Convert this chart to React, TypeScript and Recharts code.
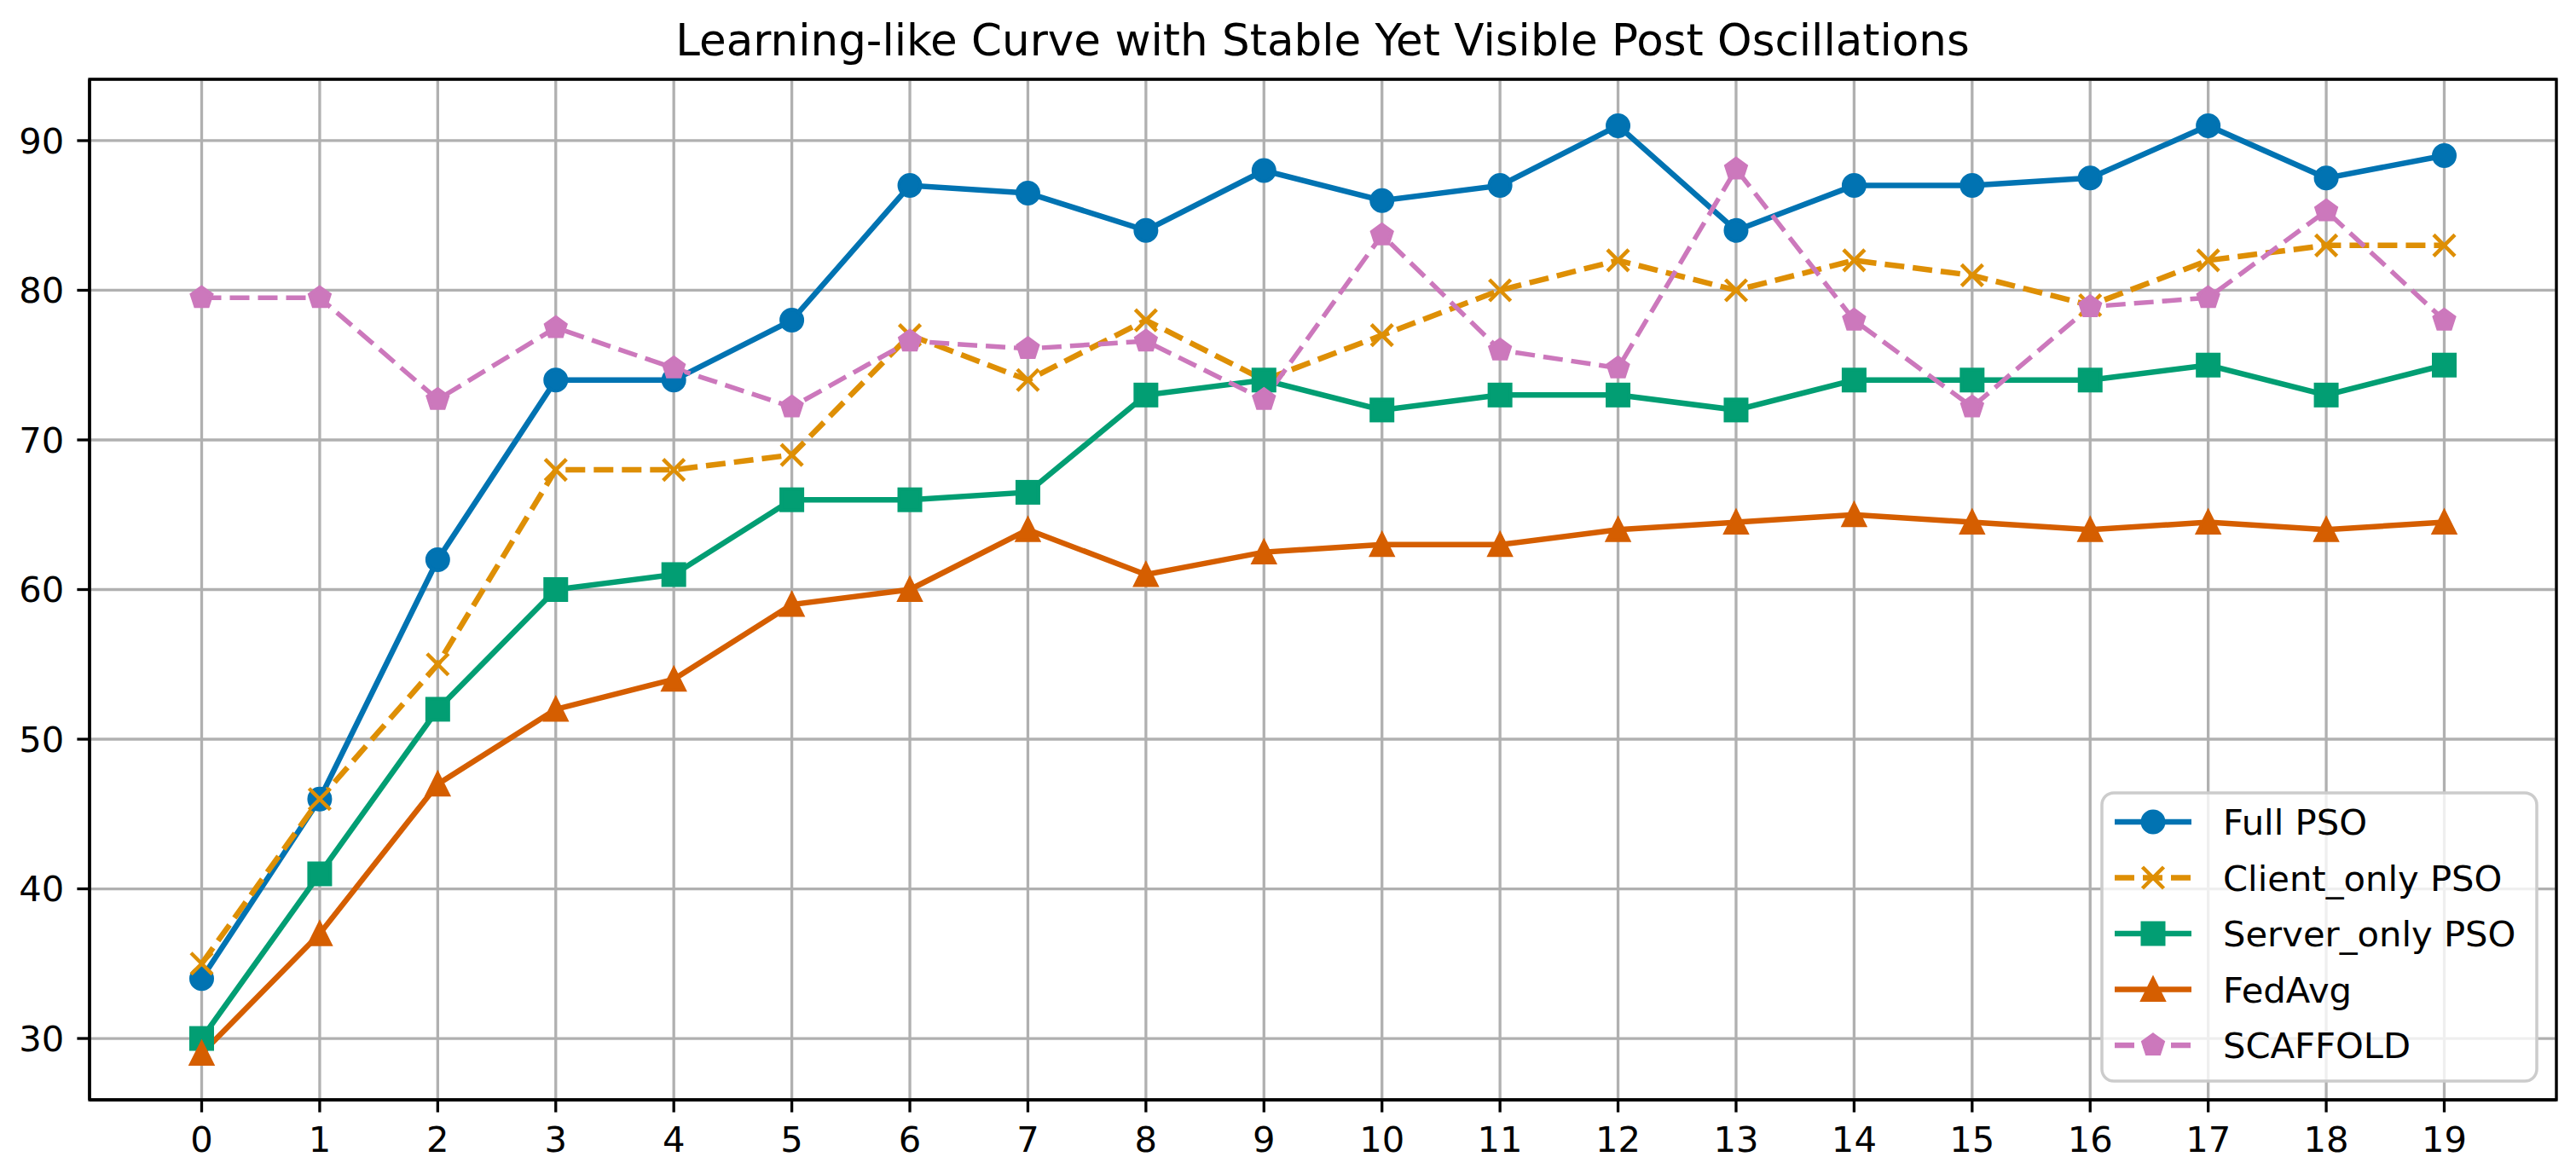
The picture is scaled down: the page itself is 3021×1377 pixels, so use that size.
import { CartesianGrid, Line, LineChart, ReferenceArea, XAxis, YAxis } from 'recharts';

const rounds = [0, 1, 2, 3, 4, 5, 6, 7, 8, 9, 10, 11, 12, 13, 14, 15, 16, 17, 18, 19];
const fullPso = [34, 46, 62, 74, 74, 78, 87, 86.5, 84, 88, 86, 87, 91, 84, 87, 87, 87.5, 91, 87.5, 89];
const clientOnlyPso = [35, 46, 55, 68, 68, 69, 77, 74, 78, 74, 77, 80, 82, 80, 82, 81, 79, 82, 83, 83];
const serverOnlyPso = [30, 41, 52, 60, 61, 66, 66, 66.5, 73, 74, 72, 73, 73, 72, 74, 74, 74, 75, 73, 75];
const fedAvg = [29, 37, 47, 52, 54, 59, 60, 64, 61, 62.5, 63, 63, 64, 64.5, 65, 64.5, 64, 64.5, 64, 64.5];
const scaffold = [79.5, 79.5, 72.7, 77.5, 74.8, 72.2, 76.6, 76.1, 76.6, 72.7, 83.7, 76.0, 74.8, 88.1, 78.0, 72.2, 78.9, 79.5, 85.3, 78.0];

const yTicks = [30, 40, 50, 60, 70, 80, 90];
const xDomain: [number, number] = [-0.95, 19.95];
const yDomain: [number, number] = [25.9, 94.1];

const TITLE = 'Learning-like Curve with Stable Yet Visible Post Oscillations';
const FONT = '"DejaVu Sans", Verdana, sans-serif';

type MarkerKind = 'circle' | 'x' | 'square' | 'triangle' | 'pentagon';

const series: { key: string; name: string; color: string; marker: MarkerKind; dashed: boolean; values: number[] }[] = [
    { key: 'full', name: 'Full PSO', color: '#0173b2', marker: 'circle', dashed: false, values: fullPso },
    { key: 'client', name: 'Client_only PSO', color: '#de8f05', marker: 'x', dashed: true, values: clientOnlyPso },
    { key: 'server', name: 'Server_only PSO', color: '#029e73', marker: 'square', dashed: false, values: serverOnlyPso },
    { key: 'fedavg', name: 'FedAvg', color: '#d55e00', marker: 'triangle', dashed: false, values: fedAvg },
    { key: 'scaffold', name: 'SCAFFOLD', color: '#cc78bc', marker: 'pentagon', dashed: true, values: scaffold },
];

const rows = rounds.map((round, i) => {
    const row: Record<string, number> = { round };
    series.forEach((s) => {
        row[s.key] = s.values[i];
    });
    return row;
});

const LINE_W = 6.5;
const DASH = '23 10';
const HALF = 12.5; // half marker size (6pt at 300dpi)
const EDGE = 4;

function Marker({ kind, cx, cy, color }: { kind: MarkerKind; cx: number; cy: number; color: string }) {
    if (cx == null || cy == null) return null;
    const common = { fill: color, stroke: color, strokeWidth: EDGE };
    switch (kind) {
        case 'circle':
            return <circle cx={cx} cy={cy} r={HALF} {...common} />;
        case 'square':
            return <rect x={cx - HALF} y={cy - HALF} width={HALF * 2} height={HALF * 2} {...common} />;
        case 'triangle':
            return <polygon points={`${cx},${cy - HALF} ${cx - HALF},${cy + HALF} ${cx + HALF},${cy + HALF}`} {...common} strokeLinejoin="miter" />;
        case 'pentagon': {
            const pts = [0, 1, 2, 3, 4]
                .map((k) => {
                    const a = -Math.PI / 2 + (k * 2 * Math.PI) / 5;
                    return `${cx + HALF * Math.cos(a)},${cy + HALF * Math.sin(a)}`;
                })
                .join(' ');
            return <polygon points={pts} {...common} />;
        }
        case 'x':
            return (
                <g stroke={color} strokeWidth={EDGE + 0.5}>
                    <line x1={cx - HALF} y1={cy - HALF} x2={cx + HALF} y2={cy + HALF} />
                    <line x1={cx - HALF} y1={cy + HALF} x2={cx + HALF} y2={cy - HALF} />
                </g>
            );
    }
    return null;
}

const axisTick = { fill: '#000', fontSize: 41.7, fontFamily: FONT };
const blackLine = { stroke: '#000', strokeWidth: 3.3 };

function LegendBox() {
    const left = 2465;
    const top = 930;
    const rowGap = 65.5;
    return (
        <g>
            <rect x={left} y={top} width={510} height={338} rx={14} ry={14} fill="rgba(255,255,255,0.8)" stroke="#cccccc" strokeWidth={3.5} />
            {series.map((s, i) => {
                const cy = top + 34 + i * rowGap;
                return (
                    <g key={s.key}>
                        <line x1={2480} y1={cy} x2={2570} y2={cy} stroke={s.color} strokeWidth={LINE_W} strokeDasharray={s.dashed ? DASH : undefined} />
                        <Marker kind={s.marker} cx={2525} cy={cy} color={s.color} />
                        <text x={2607} y={cy + 15} fontSize={41.7} fontFamily={FONT} fill="#000">
                            {s.name}
                        </text>
                    </g>
                );
            })}
        </g>
    );
}

export default function App() {
    return (
        <div style={{ position: 'absolute', left: 0, top: 0, width: 3021, height: 1377, background: '#fff' }}>
            <LineChart width={3021} height={1377} data={rows} margin={{ top: 93, right: 23, bottom: 7, left: 5 }}>
                <CartesianGrid stroke="#b0b0b0" strokeWidth={3.3} />
                <XAxis
                    dataKey="round"
                    type="number"
                    domain={xDomain}
                    ticks={rounds}
                    interval={0}
                    allowDataOverflow
                    height={80}
                    tickSize={14.6}
                    tickMargin={17}
                    tick={axisTick}
                    tickLine={blackLine}
                    axisLine={blackLine}
                />
                <YAxis
                    type="number"
                    domain={yDomain}
                    ticks={yTicks}
                    interval={0}
                    allowDataOverflow
                    width={100}
                    tickSize={14.6}
                    tickMargin={15}
                    tick={axisTick}
                    tickLine={blackLine}
                    axisLine={blackLine}
                />
                {series.map((s) => (
                    <Line
                        key={s.key}
                        type="linear"
                        dataKey={s.key}
                        name={s.name}
                        stroke={s.color}
                        strokeWidth={s.key === 'scaffold' ? 5.5 : LINE_W}
                        strokeDasharray={s.dashed ? DASH : undefined}
                        isAnimationActive={false}
                        activeDot={false}
                        dot={(p: any) => <Marker key={`${s.key}-${p.index}`} kind={s.marker} cx={p.cx} cy={p.cy} color={s.color} />}
                    />
                ))}
                <ReferenceArea x1={xDomain[0]} x2={xDomain[1]} y1={yDomain[0]} y2={yDomain[1]} fill="none" stroke="#000" strokeWidth={3.3} ifOverflow="visible" />
            </LineChart>
            <svg width={3021} height={1377} style={{ position: 'absolute', left: 0, top: 0, pointerEvents: 'none' }}>
                <text x={1551} y={65} textAnchor="middle" fontSize={51.5} fontFamily={FONT} fill="#000">
                    {TITLE}
                </text>
                <LegendBox />
            </svg>
        </div>
    );
}
